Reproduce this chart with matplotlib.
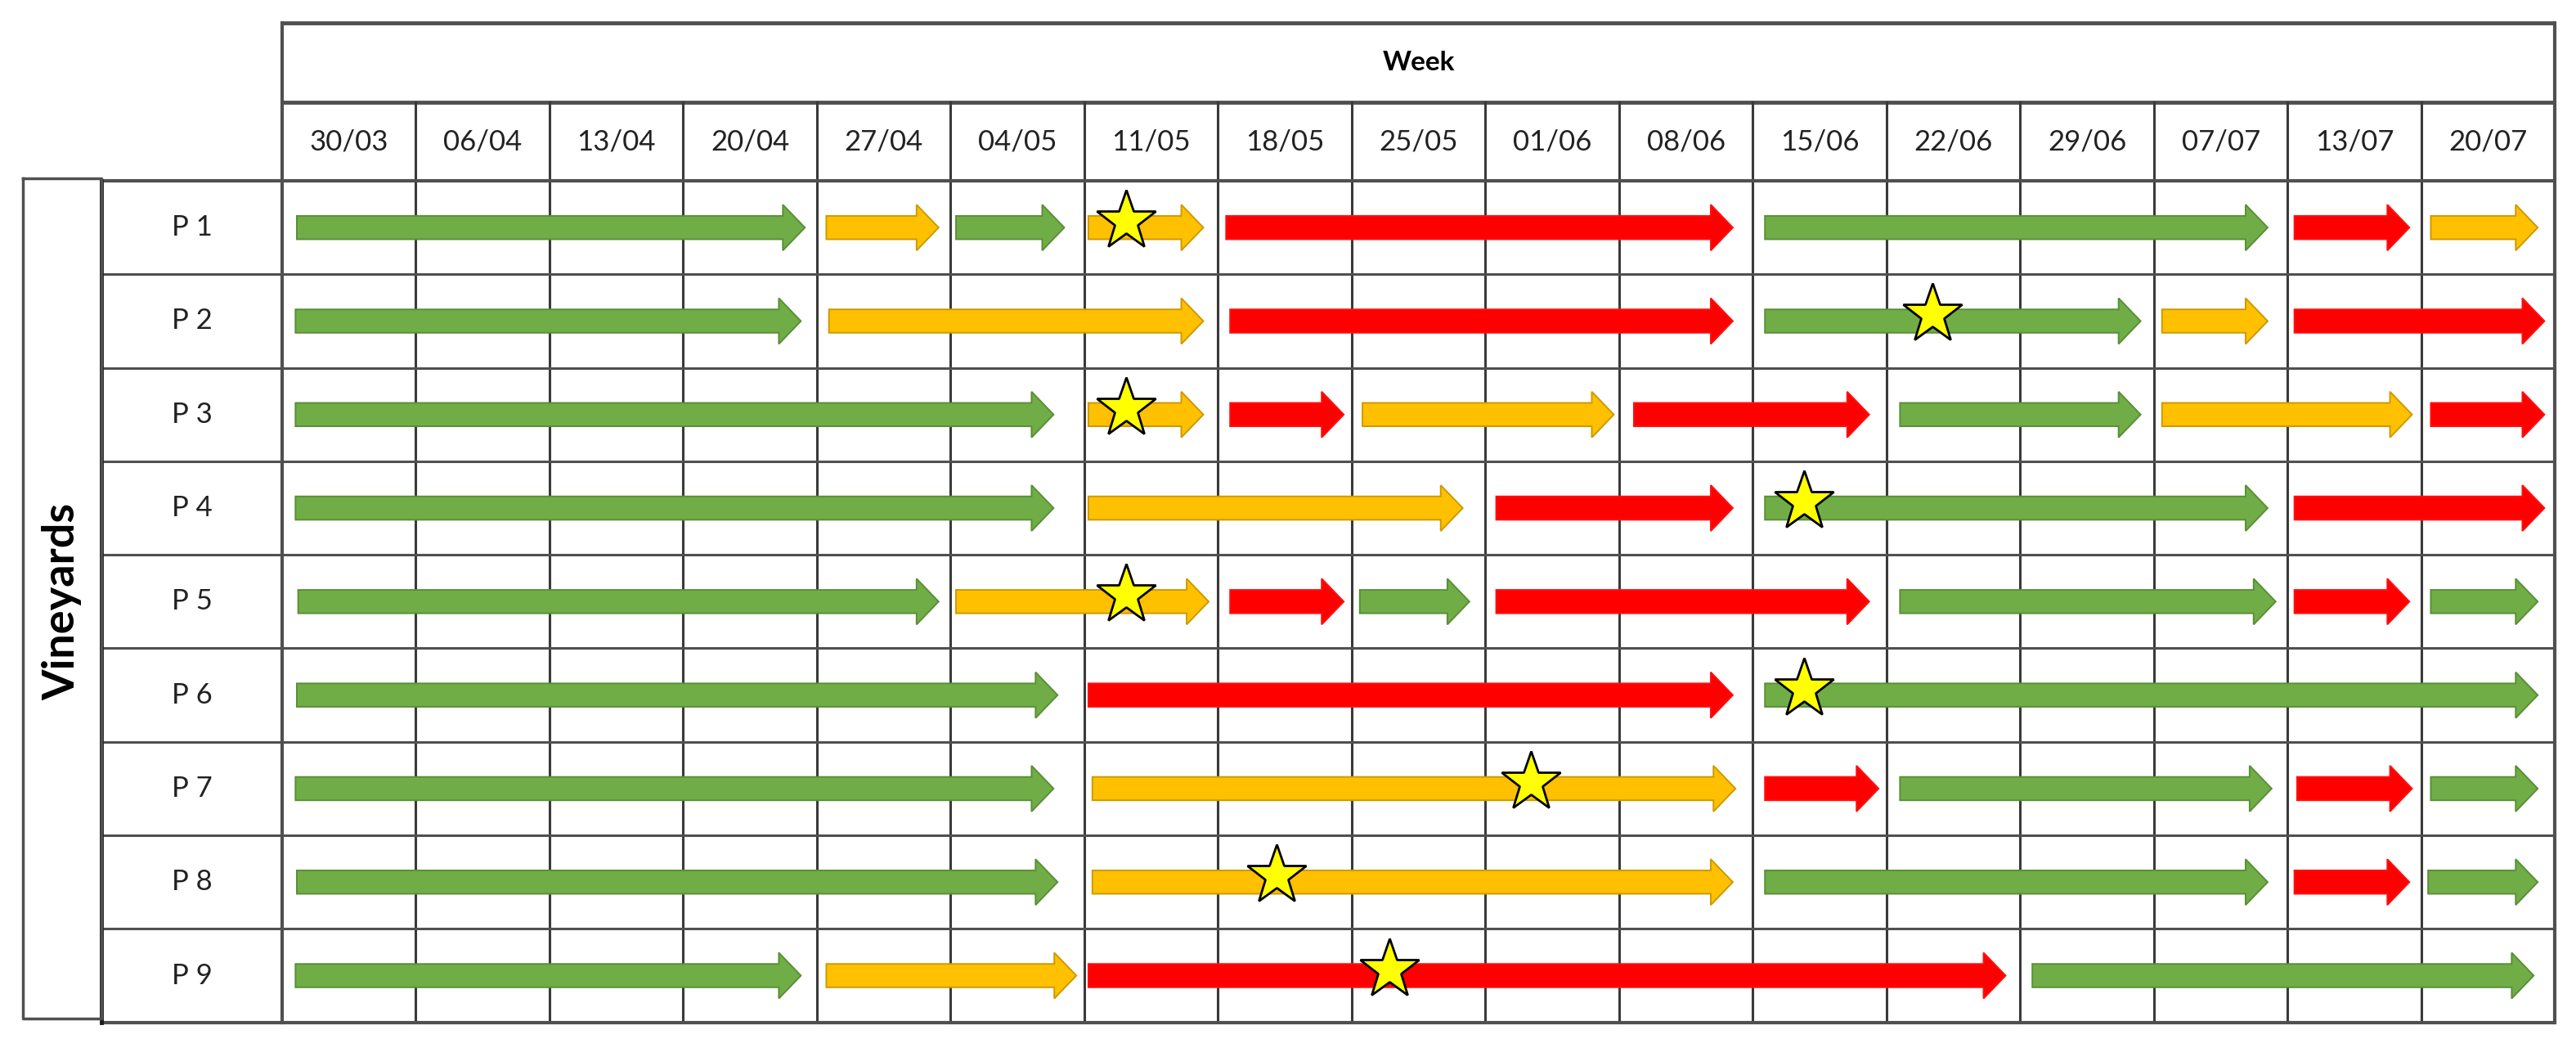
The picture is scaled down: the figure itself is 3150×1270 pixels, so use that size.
import matplotlib.pyplot as plt
from matplotlib.patches import FancyArrow

plt.rcParams['font.family'] = ['Lato', 'DejaVu Sans']

weeks = ['30/03', '06/04', '13/04', '20/04', '27/04', '04/05', '11/05', '18/05', '25/05',
         '01/06', '08/06', '15/06', '22/06', '29/06', '07/07', '13/07', '20/07']
vineyards = ['P 1', 'P 2', 'P 3', 'P 4', 'P 5', 'P 6', 'P 7', 'P 8', 'P 9']

# arrows for each vineyard: (start week, end week, colour) G = green, O = orange, R = red
p1 = [(0.11, 3.91, 'G'), (4.07, 4.91, 'O'), (5.04, 5.85, 'G'), (6.03, 6.89, 'O'),
      (7.06, 10.85, 'R'), (11.09, 14.85, 'G'), (15.05, 15.91, 'R'), (16.07, 16.87, 'O')]
p2 = [(0.10, 3.88, 'G'), (4.09, 6.89, 'O'), (7.09, 10.85, 'R'), (11.09, 13.90, 'G'),
      (14.06, 14.85, 'O'), (15.05, 16.92, 'R')]
p3 = [(0.10, 5.77, 'G'), (6.03, 6.89, 'O'), (7.09, 7.94, 'R'), (8.08, 9.96, 'O'),
      (10.11, 11.87, 'R'), (12.10, 13.90, 'G'), (14.06, 15.93, 'O'), (16.07, 16.92, 'R')]
p4 = [(0.10, 5.77, 'G'), (6.03, 8.83, 'O'), (9.08, 10.85, 'R'), (11.09, 14.85, 'G'),
      (15.05, 16.92, 'R')]
p5 = [(0.12, 4.91, 'G'), (5.04, 6.93, 'O'), (7.09, 7.94, 'R'), (8.06, 8.88, 'G'),
      (9.08, 11.87, 'R'), (12.10, 14.91, 'G'), (15.05, 15.91, 'R'), (16.07, 16.87, 'G')]
p6 = [(0.11, 5.80, 'G'), (6.03, 10.85, 'R'), (11.09, 16.87, 'G')]
p7 = [(0.10, 5.77, 'G'), (6.06, 10.87, 'O'), (11.09, 11.94, 'R'), (12.10, 14.88, 'G'),
      (15.07, 15.93, 'R'), (16.07, 16.87, 'G')]
p8 = [(0.11, 5.80, 'G'), (6.06, 10.85, 'O'), (11.09, 14.85, 'G'), (15.05, 15.91, 'R'),
      (16.05, 16.87, 'G')]
p9 = [(0.10, 3.88, 'G'), (4.07, 5.94, 'O'), (6.03, 12.89, 'R'), (13.09, 16.84, 'G')]
arrows = [p1, p2, p3, p4, p5, p6, p7, p8, p9]

# star position (week) on each vineyard row
star_weeks = [6.31, 12.34, 6.31, 11.38, 6.31, 11.38, 9.34, 7.44, 8.28]

fill = {'G': '#70AD47', 'O': '#FFC000', 'R': '#FF0000'}
edge = {'G': '#5A8F36', 'O': '#CC9A00', 'R': '#FF1010'}

fig = plt.figure(figsize=(31.5, 12.7), dpi=100)
ax = fig.add_axes([0, 0, 1, 1])
ax.set_xlim(-2.110, 17.156)
ax.set_ylim(9.178, -1.934)
ax.axis('off')

n_w = len(weeks)
n_v = len(vineyards)
line_c = '#505050'
week_top, date_top = -1.689, -0.840
lab_left, box_left = -1.352, -1.939

# header box
ax.plot([0, n_w], [week_top, week_top], color=line_c, lw=3.5, solid_capstyle='butt')
ax.plot([0, n_w], [date_top, date_top], color=line_c, lw=3.5, solid_capstyle='butt')
ax.plot([0, 0], [week_top, n_v], color=line_c, lw=3)
ax.plot([n_w, n_w], [week_top, n_v], color=line_c, lw=3)
for i in range(1, n_w):
    ax.plot([i, i], [date_top, n_v], color='#3a3a3a', lw=2.2)

# row lines (label column + grid)
for j in range(n_v + 1):
    ax.plot([lab_left, n_w], [j, j], color=line_c, lw=3 if j in (0, n_v) else 2.2,
            solid_capstyle='butt')
ax.plot([lab_left, lab_left], [0, n_v], color='#1a1a1a', lw=3.5)

# Vineyards box
ax.plot([box_left, lab_left, lab_left, box_left, box_left],
        [-0.03, -0.03, n_v - 0.04, n_v - 0.04, -0.03], color=line_c, lw=2.5)

ax.text(n_w / 2, (week_top + date_top) / 2, 'Week', ha='center', va='center',
        fontsize=24, fontweight='bold')
for i, w in enumerate(weeks):
    ax.text(i + 0.5, date_top / 2, w, ha='center', va='center', fontsize=25, color='#222222')
for j, v in enumerate(vineyards):
    ax.text(lab_left / 2, j + 0.5, v, ha='center', va='center', fontsize=25, color='#222222')
ax.text((box_left + lab_left) / 2, n_v / 2, 'Vineyards', ha='center', va='center',
        rotation=90, fontsize=39, fontweight='bold')

# arrows
for j, row in enumerate(arrows):
    yc = j + 0.5
    for x0, x1, c in row:
        ax.add_patch(FancyArrow(x0, yc, x1 - x0, 0, width=0.25, head_width=0.49,
                                head_length=0.165, length_includes_head=True,
                                facecolor=fill[c], edgecolor=edge[c], lw=1.4, zorder=3))

ax.plot(star_weeks, [j + 0.43 for j in range(n_v)], linestyle='none', marker='*',
        markersize=55, markerfacecolor='#FFFF00', markeredgecolor='black',
        markeredgewidth=2, zorder=5)

fig.savefig('out.png', dpi=100)
